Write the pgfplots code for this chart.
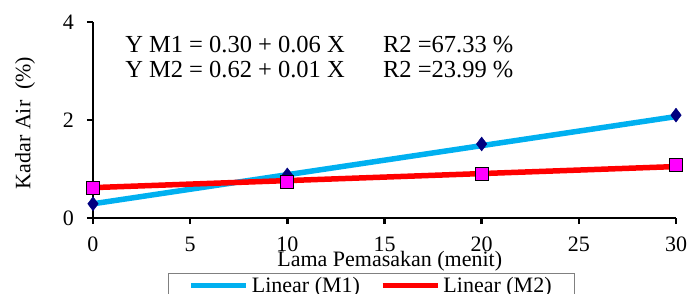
\documentclass[border=0pt]{standalone}
\usepackage{fontspec}
\setmainfont{Liberation Serif}
\usepackage{pgfplots}
\pgfplotsset{compat=1.18}
\definecolor{lblue}{RGB}{0,176,240}
\definecolor{navy}{RGB}{0,0,128}
\definecolor{mag}{RGB}{255,0,255}
\begin{document}
\begin{tikzpicture}
\begin{axis}[
  name=ax, at={(0,0)}, anchor=south west,
  scale only axis, width=583bp, height=196bp,
  xmin=0, xmax=30, ymin=0, ymax=4,
  xtick={0,5,...,30}, ytick={0,2,4},
  axis x line*=bottom, axis y line*=left,
  axis line style={-, line width=2.6bp, black},
  tick style={line width=2.6bp, black},
  tick align=outside, major tick length=6bp,
  /pgf/number format/assume math mode=true,
  tick label style={font=\fontsize{22bp}{26bp}\selectfont},
  xticklabel style={inner sep=0pt, yshift=-13bp},
  yticklabel style={inner sep=0pt, xshift=-13bp},
  xlabel={Lama Pemasakan (menit)},
  ylabel={Kadar Air\ \ (\%)},
  label style={font=\fontsize{22bp}{26bp}\selectfont},
  xlabel style={at={(rel axis cs:0.509,0)}, anchor=base, yshift=-48bp},
  ylabel style={at={(rel axis cs:0,0.485)}, anchor=center, yshift=68bp},
  clip=false,
  legend columns=2,
  legend style={at={(rel axis cs:0.1286,-0.279)}, anchor=north west,
    draw=gray, line width=0.8bp, inner xsep=20bp, inner ysep=1bp,
    font=\fontsize{22bp}{26bp}\selectfont,
    nodes={inner sep=3bp},
    /tikz/every even column/.append style={column sep=17bp}},
  legend image code/.code={\draw[#1] (0bp,0bp) -- (55bp,0bp);},
]
\addplot[only marks, mark=diamond*, mark size=7bp, color=navy, forget plot]
  coordinates {(0,0.29) (10,0.88) (20,1.51) (30,2.10)};
\addplot[only marks, mark=square*, mark size=6.5bp, draw=black, fill=mag, line width=0.8bp, forget plot]
  coordinates {(0,0.61) (10,0.74) (20,0.91) (30,1.08)};
\addplot[lblue, line width=5.5bp] coordinates {(0,0.29) (30,2.07)};
\addlegendentry{Linear (M1)}
\addplot[red, line width=5.5bp] coordinates {(0,0.62) (30,1.05)};
\addlegendentry{Linear (M2)}
\node[anchor=base west, inner sep=0pt, font=\fontsize{24.5bp}{28bp}\selectfont] at (axis cs:1.65,3.37) {Y M1 = 0.30 + 0.06 X};
\node[anchor=base west, inner sep=0pt, font=\fontsize{24.5bp}{28bp}\selectfont] at (axis cs:1.65,2.86) {Y M2 = 0.62 + 0.01 X};
\node[anchor=base west, inner sep=0pt, font=\fontsize{24.5bp}{28bp}\selectfont] at (axis cs:14.92,3.37) {R2 =67.33 \%};
\node[anchor=base west, inner sep=0pt, font=\fontsize{24.5bp}{28bp}\selectfont] at (axis cs:14.92,2.86) {R2 =23.99 \%};
\end{axis}
\pgfresetboundingbox
\path[use as bounding box] (-93bp,-76bp) rectangle (597bp,218bp);
\end{tikzpicture}
\end{document}
